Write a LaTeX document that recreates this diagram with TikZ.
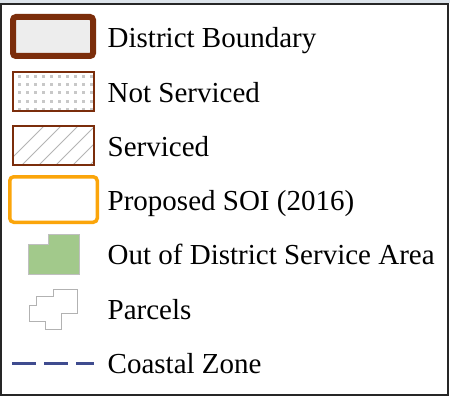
\documentclass[tikz,border=0pt]{standalone}
\usepackage{fontspec}
\setmainfont{Liberation Serif}
\definecolor{strip}{HTML}{DCE3EA}
\definecolor{bdry}{HTML}{7B2D0B}
\definecolor{soi}{HTML}{FBA50A}
\definecolor{oda}{HTML}{A2C98B}
\definecolor{coast}{HTML}{3F4C8F}
\definecolor{dotc}{HTML}{C8C8C8}
\definecolor{hatchc}{HTML}{B4B4B4}
\begin{document}
\begin{tikzpicture}[x=1pt,y=-1pt,
  lbl/.style={anchor=base west,inner sep=0pt,font=\fontsize{29}{31}\selectfont},
  thinbox/.style={draw=bdry,line width=1.8pt}]
\useasboundingbox (0,0) rectangle (450,396);
\fill[white] (0,0) rectangle (450,396);
\fill[strip] (0,0) rectangle (450,3.2);
\draw[black!85,line width=1.7pt] (0.9,4) rectangle (448,395);
% row 1
\draw[bdry,fill=black!7,line width=6pt,rounded corners=3pt] (13,17) rectangle (93,56);
\node[lbl] (t1) at (107.5,48) {District Boundary};
% row 2
\begin{scope}
\clip (13,72) rectangle (94,111);
\foreach \xx in {19,27,...,91}{\foreach \yy in {77,85,...,109}{\fill[dotc] (\xx-1.5,\yy-1.5) rectangle (\xx+1.5,\yy+1.5);}}
\end{scope}
\draw[thinbox] (13,72) rectangle (94,111);
\node[lbl] (t2) at (107.5,102.2) {Not Serviced};
% row 3
\begin{scope}
\clip (13,126) rectangle (94,165);
\foreach \xx in {0,17,...,136}{\draw[hatchc,line width=0.9pt] (\xx,170) -- ++(50,-50);}
\end{scope}
\draw[thinbox] (13,126) rectangle (94,165);
\node[lbl] (t3) at (107.5,156.4) {Serviced};
% row 4
\draw[soi,line width=3.5pt,rounded corners=4pt] (9.75,176.75) rectangle (97.25,222.25);
\node[lbl] (t4) at (107.5,210.6) {Proposed SOI (2016)};
% row 5
\draw[fill=oda,draw=black!25,line width=0.8pt] (28,244) -- (48,244) -- (48,234) -- (79,234) -- (79,274) -- (28,274) -- cycle;
\node[lbl] (t5) at (107.5,264.8) {Out of District Service Area};
% row 6
\draw[black!30,line width=0.8pt] (53.3,289) -- (77.3,289) -- (77.3,313.3) -- (61,313.3) -- (61,329) -- (45,329) -- (45,321) -- (29,321) -- (29,305) -- (36,305) -- (36,296.7) -- (53.3,296.7) -- cycle;
\node[lbl] (t6) at (107.5,319) {Parcels};
% row 7
\coordinate (c1) at (12,363.3);
\coordinate (c2) at (94,363.3);
\draw[coast,line width=2.6pt,dash pattern=on 24pt off 8pt] (c1) -- (c2);
\node[lbl] (t7) at (107.5,373.2) {Coastal Zone};
\end{tikzpicture}
\end{document}
